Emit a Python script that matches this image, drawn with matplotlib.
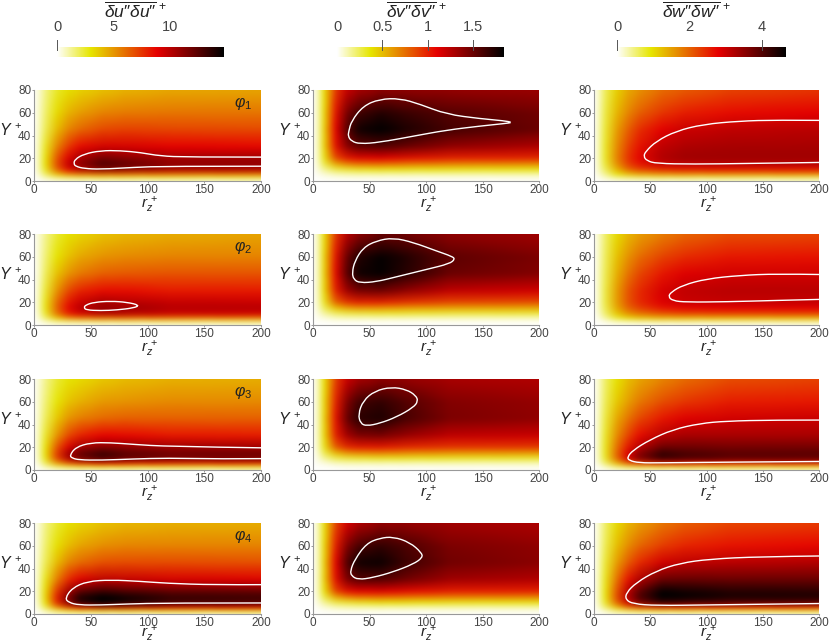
import numpy as np
import matplotlib
matplotlib.use('Agg')
import matplotlib.pyplot as plt
from matplotlib.colors import LinearSegmentedColormap
from matplotlib.path import Path
from matplotlib.patches import PathPatch

plt.rcParams['font.family'] = ['Liberation Sans', 'DejaVu Sans']
plt.rcParams['mathtext.fontset'] = 'custom'
plt.rcParams['mathtext.rm'] = 'Liberation Sans'
plt.rcParams['mathtext.it'] = 'Liberation Sans:italic'
plt.rcParams['mathtext.bf'] = 'Liberation Sans:bold'

# sample positions of the fields
rz = [0, 5, 10, 20, 30, 40, 60, 80, 120, 200]
yp = [0, 3, 6, 10, 15, 20, 30, 45, 60, 80]
zero = [0] * 10

u1 = [zero,
      [0, .4, .9, 1.6, 1.9, 2.1, 2.3, 2.3, 2.3, 2.3],
      [0, .8, 1.8, 3.8, 5, 5.6, 6, 6, 5.8, 5.6],
      [0, 1.1, 2.6, 6.2, 8.6, 10, 11.2, 11, 10.3, 10.2],
      [0, 1.2, 3, 6.8, 9.6, 11, 12.7, 12.2, 11.1, 11],
      [0, 1.2, 2.9, 6.6, 9, 10.4, 11.7, 11.3, 10.6, 10.7],
      [0, 1.1, 2.6, 5.4, 7.4, 8.6, 9.3, 9.2, 8.9, 8.7],
      [0, .9, 2, 4, 5.4, 6.2, 7, 7.2, 7.1, 7],
      [0, .8, 1.7, 3.2, 4.2, 4.8, 5.5, 5.7, 5.8, 5.8],
      [0, .6, 1.4, 2.5, 3.1, 3.4, 3.9, 4.2, 4.5, 4.6]]
u2 = [zero,
      [0, .3, .7, 1.3, 1.5, 1.6, 1.7, 1.7, 1.7, 1.7],
      [0, .7, 1.7, 3.6, 5, 5.5, 5.9, 5.9, 5.7, 5.5],
      [0, 1, 2.5, 5.8, 8, 9.1, 10, 9.9, 9.5, 9.3],
      [0, 1.1, 2.8, 6.2, 8.6, 9.9, 11, 10.7, 10, 10],
      [0, 1.1, 2.7, 6, 8.2, 9.4, 10.3, 10, 9.6, 9.5],
      [0, 1, 2.4, 5, 6.9, 7.9, 8.5, 8.5, 8.2, 8.2],
      [0, .8, 1.9, 3.8, 5, 5.7, 6.4, 6.6, 6.7, 6.7],
      [0, .7, 1.6, 3, 3.9, 4.5, 5.1, 5.3, 5.5, 5.5],
      [0, .6, 1.3, 2.4, 3, 3.3, 3.8, 4.1, 4.4, 4.6]]
u3 = [zero,
      [0, .4, 1, 2, 2.5, 2.8, 3, 3, 2.9, 2.9],
      [0, .8, 2, 4.6, 6.5, 7.6, 8.6, 8.4, 8.2, 8],
      [0, 1.1, 2.8, 7, 10, 11.6, 12.9, 12.1, 11.6, 11.6],
      [0, 1.2, 3.1, 7.2, 10.4, 12, 13.1, 12.4, 11.8, 11.8],
      [0, 1.2, 2.9, 6.6, 9, 10.5, 11.2, 11, 10.7, 10.6],
      [0, 1.1, 2.5, 5, 7, 8, 8.8, 8.7, 8.3, 8.2],
      [0, .9, 1.9, 3.7, 5, 5.6, 6.2, 6.4, 6.4, 6.4],
      [0, .8, 1.6, 2.9, 3.8, 4.3, 4.9, 5.1, 5.3, 5.3],
      [0, .6, 1.3, 2.3, 2.9, 3.2, 3.7, 4, 4.3, 4.4]]
u4 = [zero,
      [0, .4, 1.1, 2.2, 2.8, 3.1, 3.3, 3.3, 3.2, 3.2],
      [0, .9, 2.1, 5.2, 7.4, 8.8, 10, 9.8, 9.2, 9],
      [0, 1.2, 3, 7.8, 11.2, 13.6, 14.7, 14.1, 13.1, 12.8],
      [0, 1.3, 3.3, 8, 11.4, 13.8, 14.7, 14.2, 13.3, 13],
      [0, 1.3, 3.2, 7.4, 10.4, 12.2, 13.2, 12.7, 12.2, 12.1],
      [0, 1.2, 2.7, 5.6, 7.8, 9, 9.8, 9.6, 9.2, 9],
      [0, 1, 2, 4, 5.4, 6.1, 6.8, 6.9, 6.9, 6.8],
      [0, .8, 1.7, 3.1, 4, 4.6, 5.2, 5.4, 5.5, 5.5],
      [0, .6, 1.4, 2.4, 3, 3.3, 3.8, 4.1, 4.3, 4.4]]

v1 = [zero,
      [0, .01, .02, .03, .04, .04, .04, .04, .04, .04],
      [0, .03, .06, .1, .11, .12, .12, .12, .12, .12],
      [0, .07, .15, .26, .3, .33, .35, .35, .34, .34],
      [0, .1, .28, .55, .68, .74, .75, .72, .68, .65],
      [0, .11, .35, .85, 1.02, 1.08, 1.1, 1.06, 1, .98],
      [0, .12, .41, 1.05, 1.38, 1.52, 1.56, 1.5, 1.36, 1.27],
      [0, .12, .42, 1.1, 1.55, 1.78, 1.84, 1.76, 1.62, 1.5],
      [0, .12, .4, 1.05, 1.45, 1.62, 1.72, 1.66, 1.56, 1.48],
      [0, .12, .38, .92, 1.2, 1.3, 1.38, 1.38, 1.36, 1.34]]
v2 = [zero,
      [0, .01, .01, .02, .02, .02, .02, .02, .02, .02],
      [0, .03, .05, .08, .09, .09, .09, .09, .09, .09],
      [0, .06, .13, .22, .26, .28, .3, .3, .28, .28],
      [0, .09, .25, .48, .58, .62, .62, .6, .58, .56],
      [0, .11, .33, .78, .94, 1, 1, .95, .88, .85],
      [0, .12, .4, 1, 1.32, 1.45, 1.48, 1.38, 1.22, 1.16],
      [0, .12, .42, 1.08, 1.55, 1.78, 1.82, 1.72, 1.5, 1.42],
      [0, .12, .41, 1.05, 1.5, 1.72, 1.82, 1.74, 1.54, 1.44],
      [0, .12, .38, .93, 1.25, 1.38, 1.5, 1.48, 1.38, 1.32]]
v3 = [zero,
      [0, .01, .01, .02, .03, .03, .03, .03, .03, .03],
      [0, .03, .05, .09, .1, .1, .1, .1, .1, .1],
      [0, .06, .14, .24, .28, .3, .32, .32, .31, .3],
      [0, .09, .26, .5, .62, .66, .68, .66, .62, .6],
      [0, .11, .34, .8, .97, 1.02, 1.03, .98, .94, .92],
      [0, .12, .4, 1, 1.3, 1.42, 1.44, 1.35, 1.22, 1.18],
      [0, .12, .41, 1.05, 1.5, 1.7, 1.74, 1.62, 1.44, 1.38],
      [0, .12, .4, 1, 1.42, 1.62, 1.68, 1.58, 1.42, 1.36],
      [0, .12, .37, .9, 1.18, 1.3, 1.38, 1.36, 1.3, 1.27]]
v4 = [zero,
      [0, .01, .02, .03, .04, .04, .04, .04, .04, .04],
      [0, .03, .06, .1, .11, .12, .12, .12, .12, .12],
      [0, .07, .15, .26, .3, .33, .36, .36, .34, .34],
      [0, .1, .28, .56, .68, .74, .76, .74, .7, .68],
      [0, .12, .36, .88, 1.05, 1.1, 1.12, 1.08, 1.02, 1],
      [0, .12, .42, 1.06, 1.42, 1.55, 1.56, 1.48, 1.32, 1.26],
      [0, .12, .42, 1.1, 1.58, 1.78, 1.8, 1.66, 1.48, 1.4],
      [0, .12, .4, 1.02, 1.42, 1.6, 1.68, 1.6, 1.44, 1.38],
      [0, .12, .36, .88, 1.15, 1.26, 1.36, 1.36, 1.32, 1.28]]

w1 = [zero,
      [0, .1, .2, .4, .5, .55, .6, .6, .6, .6],
      [0, .2, .4, .9, 1.2, 1.4, 1.55, 1.6, 1.6, 1.6],
      [0, .3, .6, 1.3, 1.9, 2.2, 2.45, 2.55, 2.6, 2.6],
      [0, .33, .75, 1.6, 2.25, 2.6, 3, 3.1, 3.15, 3.15],
      [0, .35, .8, 1.7, 2.35, 2.75, 3.2, 3.35, 3.35, 3.35],
      [0, .35, .8, 1.65, 2.25, 2.65, 3.1, 3.25, 3.3, 3.3],
      [0, .33, .75, 1.5, 2, 2.4, 2.8, 3, 3.1, 3.15],
      [0, .3, .7, 1.3, 1.7, 2, 2.35, 2.55, 2.7, 2.8],
      [0, .27, .6, 1.1, 1.4, 1.6, 1.9, 2.05, 2.25, 2.35]]
w2 = [zero,
      [0, .05, .1, .2, .25, .3, .35, .35, .35, .35],
      [0, .15, .35, .75, 1, 1.15, 1.3, 1.3, 1.3, 1.3],
      [0, .25, .55, 1.15, 1.6, 1.85, 2.1, 2.2, 2.25, 2.25],
      [0, .3, .65, 1.4, 1.95, 2.25, 2.6, 2.75, 2.8, 2.8],
      [0, .3, .7, 1.5, 2.1, 2.45, 2.85, 3, 3.05, 3.05],
      [0, .3, .7, 1.5, 2.1, 2.45, 2.9, 3.08, 3.15, 3.15],
      [0, .3, .65, 1.35, 1.85, 2.2, 2.6, 2.85, 2.95, 2.95],
      [0, .27, .6, 1.2, 1.6, 1.9, 2.25, 2.45, 2.6, 2.65],
      [0, .25, .55, 1, 1.3, 1.5, 1.75, 1.95, 2.15, 2.2]]
w3 = [zero,
      [0, .1, .25, .55, .75, .85, .9, .9, .9, .9],
      [0, .25, .55, 1.3, 2, 2.45, 2.75, 2.8, 2.7, 2.7],
      [0, .33, .8, 1.9, 2.9, 3.6, 4.2, 4.05, 3.9, 3.85],
      [0, .35, .85, 1.95, 2.85, 3.5, 4.2, 4.05, 3.9, 3.9],
      [0, .35, .85, 1.85, 2.6, 3.15, 3.75, 3.75, 3.7, 3.7],
      [0, .33, .8, 1.65, 2.25, 2.7, 3.15, 3.3, 3.3, 3.3],
      [0, .3, .72, 1.4, 1.85, 2.2, 2.6, 2.85, 2.95, 3],
      [0, .27, .62, 1.15, 1.5, 1.8, 2.15, 2.35, 2.55, 2.6],
      [0, .25, .55, .95, 1.25, 1.45, 1.7, 1.9, 2.15, 2.25]]
w4 = [zero,
      [0, .1, .25, .55, .7, .8, .85, .85, .85, .85],
      [0, .25, .55, 1.25, 1.9, 2.3, 2.6, 2.65, 2.6, 2.55],
      [0, .33, .8, 1.95, 2.95, 3.6, 4.2, 4.1, 3.95, 3.9],
      [0, .36, .9, 2.15, 3.2, 4, 4.65, 4.6, 4.45, 4.4],
      [0, .36, .9, 2.1, 3.1, 3.85, 4.6, 4.5, 4.35, 4.3],
      [0, .35, .85, 1.85, 2.65, 3.2, 3.8, 3.85, 3.8, 3.8],
      [0, .32, .75, 1.5, 2.05, 2.45, 2.95, 3.1, 3.15, 3.2],
      [0, .28, .65, 1.25, 1.65, 1.95, 2.3, 2.5, 2.65, 2.75],
      [0, .25, .55, 1, 1.3, 1.5, 1.8, 2, 2.2, 2.3]]

# white iso-lines, (rz+, Y+) pairs
c_u1 = [(200, 21), (135, 21), (111, 22), (94, 25), (76, 26.7), (58.6, 26.7), (44, 23.7), (36, 19), (35, 15),
        (37, 12.8), (44, 11), (58.6, 10.3), (88, 12), (117, 13), (200, 13)]
c_u2 = [(93, 17.4), (82, 20), (67.5, 21), (53, 20), (45.5, 17.6), (44, 15.3), (46, 13.2),
        (58.6, 12.6), (73, 13.2), (88, 15)]
c_u3 = [(200, 19.5), (117, 20.7), (88, 22.5), (67.5, 24), (50, 24), (36.7, 20), (31.4, 12.7), (33.7, 10.4),
        (39.6, 8.9), (58.6, 8.6), (88, 9.7), (117, 10.5), (164, 9.7), (200, 10)]
c_u4 = [(200, 25.8), (158, 25.6), (117, 27), (94, 28.7), (67.5, 30), (47, 28.7), (33.7, 22.9), (27.3, 13.8),
        (30.8, 10), (39.6, 7.9), (58.6, 7.9), (82, 8.8), (117, 9.7), (200, 9.7)]
c_v1 = [(31.7, 43.9), (34, 52.7), (44.4, 66), (59, 72), (77, 72.6), (94.7, 67.5), (118, 58.7), (148, 54.8),
        (168.6, 53), (177, 51.5), (168.6, 50.4), (148, 48.3), (118, 44.7), (88.8, 39.4), (59, 34),
        (41.4, 32.6), (34, 35), (31, 39.4)]
c_v2 = [(34.6, 46), (37, 56.3), (44.4, 68), (56, 74), (71, 76.7), (88.8, 72.6), (109.5, 65), (122.8, 60.4),
        (125.7, 58), (121, 53.9), (100.6, 48.9), (74, 42.4), (56, 38), (41.4, 37), (36, 40)]
c_v3 = [(40, 49), (44.4, 61), (54.7, 69.5), (69.5, 73), (82.8, 70.7), (91, 65.5), (93, 60.5), (88.8, 55),
        (74, 46.6), (59, 41), (47.3, 38.7), (42, 41)]
c_v4 = [(33, 37.9), (37, 48), (47.3, 62), (59, 66.7), (71, 67.9), (85.8, 62.9), (96, 54), (97, 49.6),
        (88.8, 43.9), (71, 37), (53, 32), (40, 30.2), (34, 33.5)]
c_w1 = [(200, 53.3), (162, 53.6), (129.5, 52.7), (97, 49.8), (73, 43.9), (55.4, 35), (45.9, 26), (44.1, 21.6),
        (47, 17.8), (55.4, 15.4), (88, 14.8), (135, 15.4), (200, 16.3)]
c_w2 = [(200, 44.4), (162, 45), (129.5, 43.6), (100, 40.6), (79, 35), (68.7, 29), (66, 25), (70, 21.3),
        (82, 20.1), (117.6, 20.4), (162, 21.6), (200, 22.5)]
c_w3 = [(200, 43.9), (159, 43.9), (117.6, 43), (94, 40.9), (70, 35.5), (49.6, 26.5), (34.7, 17.4), (29.6, 11.4),
        (31, 8.4), (40, 6.3), (59, 6.3), (117.6, 6.9), (200, 7.5)]
c_w4 = [(200, 51), (147, 50.4), (103, 48.3), (76.5, 44.7), (55.4, 37.9), (37.6, 27.6), (28.7, 18.7), (28, 12.7),
        (34.7, 8.9), (55.4, 7.4), (103, 8), (200, 9.2)]

fields = [[u1, v1, w1], [u2, v2, w2], [u3, v3, w3], [u4, v4, w4]]
contours = [[c_u1, c_v1, c_w1], [c_u2, c_v2, c_w2], [c_u3, c_v3, c_w3], [c_u4, c_v4, c_w4]]
closed = [False, True, False]

vmax = [14.7, 1.84, 4.65]
bar_labels = ["$\\overline{\\delta u\u2033\\delta u\u2033}^{\\,+}$", "$\\overline{\\delta v\u2033\\delta v\u2033}^{\\,+}$",
              "$\\overline{\\delta w\u2033\\delta w\u2033}^{\\,+}$"]
bar_ticks = [[0, 5, 10], [0, 0.5, 1, 1.5], [0, 2, 4]]
bar_ticklabels = [['0', '5', '10'], ['0', '0.5', '1', '1.5'], ['0', '2', '4']]
bar_marks = [[0], [0.5, 1, 1.5], [0, 4]]
phi_labels = [r"$\varphi_1$", r"$\varphi_2$", r"$\varphi_3$", r"$\varphi_4$"]

W, H = 830., 643.
col_left = [34, 313, 594]
col_w = [227, 226, 225]
row_top = [90, 234, 379, 523]
row_h = 91
bar_left = [57, 337, 617]
bar_right = [223, 504, 785]
title_x = [136, 417, 697]
xlabel_y = [-0.265, -0.265, -0.265, -0.225]

cmap = LinearSegmentedColormap.from_list('bbr', [(0, '#ffffff'), (0.2, '#e6e600'), (0.6, '#e60000'), (1, '#000000')])
grey = '#444444'
axis_grey = '#999999'


def px_axes(fig, left, top, w, h):
    return fig.add_axes([left / W, 1 - (top + h) / H, w / W, h / H])


def iso_path(pts, loop):
    # quadratic curve through the mid points so the outline stays round
    pts = np.array(pts, dtype=float)
    if loop:
        mids = (pts + np.roll(pts, -1, axis=0)) / 2
        verts = [mids[-1]]
        codes = [Path.MOVETO]
        for i in range(len(pts)):
            verts += [pts[i], mids[i]]
            codes += [Path.CURVE3, Path.CURVE3]
    else:
        verts = [pts[0]]
        codes = [Path.MOVETO]
        for i in range(1, len(pts) - 1):
            end = pts[i + 1] if i == len(pts) - 2 else (pts[i] + pts[i + 1]) / 2
            verts += [pts[i], end]
            codes += [Path.CURVE3, Path.CURVE3]
    return Path(verts, codes)


def soft(img, dpi, sigma=2.6):
    # reference is a soft raster, blur the drawn mesh a bit (edges clamped)
    n = int(3 * sigma)
    k = np.exp(-0.5 * (np.arange(-n, n + 1) / sigma) ** 2)
    k = k / k.sum()
    out = np.pad(img, ((n, n), (n, n), (0, 0)), mode='edge')
    for axis in (0, 1):
        out = np.apply_along_axis(lambda a: np.convolve(a, k, mode='same'), axis, out)
    return out[n:-n, n:-n], 0, 0


fig = plt.figure(figsize=(8.3, 6.43), dpi=100)
X, Y = np.meshgrid(rz, yp)

for r in range(4):
    for c in range(3):
        ax = px_axes(fig, col_left[c], row_top[r], col_w[c], row_h)
        mesh = ax.pcolormesh(X, Y, np.array(fields[r][c], dtype=float), shading='gouraud', cmap=cmap, vmin=0, vmax=vmax[c])
        mesh.set_agg_filter(soft)
        loop = closed[c] or (c == 0 and r == 1)
        ax.add_patch(PathPatch(iso_path(contours[r][c], loop), fill=False, ec='white', lw=1.0))
        ax.set_xlim(0, 200)
        ax.set_ylim(0, 80)
        ax.set_xticks([0, 50, 100, 150, 200])
        ax.set_yticks([0, 20, 40, 60, 80])
        ax.tick_params(labelsize=8.5, length=1.5, width=0.7, color=axis_grey, labelcolor=grey, pad=0.5)
        ax.spines['top'].set_visible(False)
        ax.spines['right'].set_visible(False)
        ax.spines['left'].set_color(axis_grey)
        ax.spines['bottom'].set_color(axis_grey)
        ax.text(0.51, xlabel_y[r], r"$r_z^{\,+}$", transform=ax.transAxes, ha='center', va='center', fontsize=11, color='#222222')
        ax.text(-0.105, 0.55, r"$Y^{\,+}$", transform=ax.transAxes, ha='center', va='center', fontsize=11.5, color='#222222')
        if c == 0:
            ax.text(0.92, 0.855, phi_labels[r], transform=ax.transAxes, ha='center', va='center', fontsize=11.5, color='#222222')

for c in range(3):
    bar = px_axes(fig, bar_left[c], 46.5, bar_right[c] - bar_left[c], 10.5)
    grad = np.linspace(0, vmax[c], 256)[None, :]
    bar.imshow(grad, extent=[0, vmax[c], 0, 1], aspect='auto', cmap=cmap, vmin=0, vmax=vmax[c])
    for s in bar.spines.values():
        s.set_visible(False)
    bar.set_yticks([])
    bar.set_xticks(bar_ticks[c])
    bar.set_xticklabels(bar_ticklabels[c])
    bar.tick_params(axis='x', top=False, bottom=False, length=0, labeltop=True, labelbottom=False, labelsize=10.5,
                    labelcolor=grey, pad=9)
    for m in bar_marks[c]:
        bar.plot([m, m], [0.65, 1.65], color='#555555', lw=0.7, clip_on=False)
    bar.set_xlim(0, vmax[c])
    bar.set_ylim(0, 1)
    fig.text(title_x[c] / W, 1 - 10 / H, bar_labels[c], ha='center', va='center', fontsize=12.5, color='#222222')

fig.savefig('out.png', dpi=100)
